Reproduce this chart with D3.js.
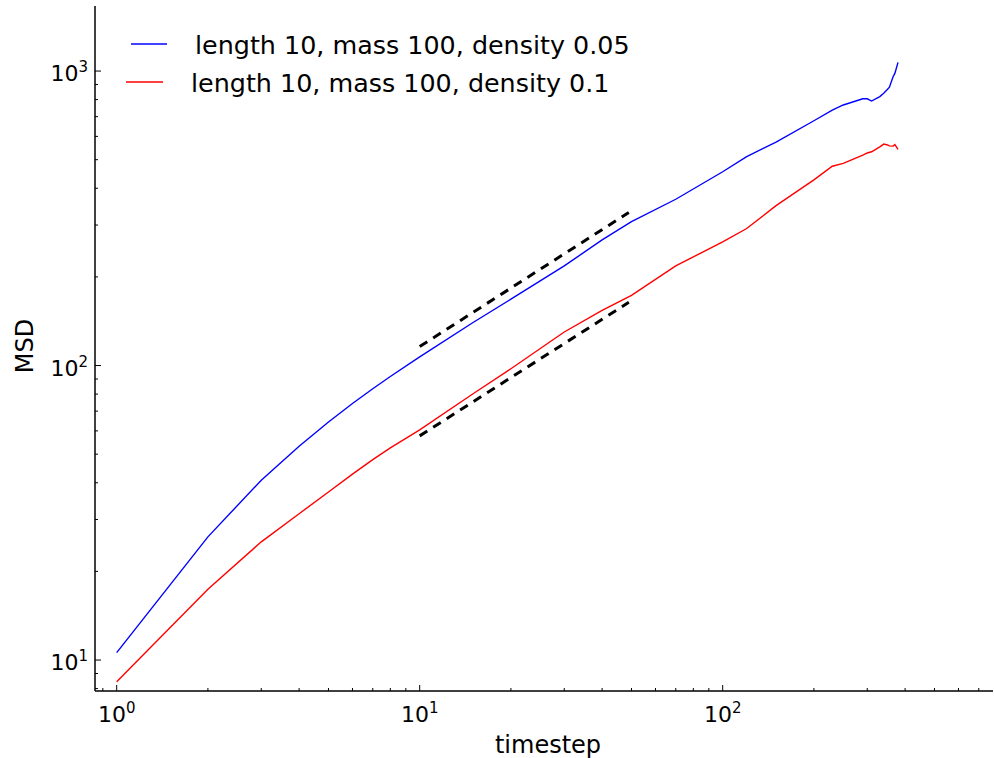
<!DOCTYPE html>
<html lang="en">
<head>
<meta charset="utf-8">
<title>MSD vs timestep</title>
<script src="https://d3js.org/d3.v7.min.js"></script>
<style>
  body{margin:0;background:#fff;font-family:"DejaVu Sans",sans-serif;}
  svg text{font-family:"DejaVu Sans",sans-serif;fill:#000;}
</style>
</head>
<body>
<div id="chart"></div>
<script>
// values
var timestep = [1,2,3,4,5,6,7,8,10,15,20,30,40,50,70,100,120,150,200,230,250,290,300,310,330,340,350,355,365,370,379]
var msdDensity005 = [10.6,26.2,40.8,53.2,64.3,74.3,83.4,91.8,107,140,168,218,267,308,367,455,512,574,678,737,767,805,805,791,819,840,867,881,957,982,1070]
var msdDensity01 = [8.44,17.4,25.2,31.4,37.2,42.8,47.9,52.5,60.5,80.2,97.5,130,154,173,218,263,292,349,427,475,486,518,527,532,553,565,561,557,556,563,542]

// guide lines (dashed), endpoints only
var guideX = [10,49]
var guideUpper = [116,331]
var guideLower = [57.7,164]

var seriesNames = ["length 10, mass 100, density 0.05","length 10, mass 100, density 0.1"]
var seriesColors = ["#0000ff","#ff0000"]

var w = 994, h = 758
// note: "top" is taken by window.top, so use other names
var plotLeft = 95, plotRight = 993, plotTop = 6, plotBottom = 691

var svg = d3.select("#chart").append("svg")
    .attr("width",w).attr("height",h)

var xScale = d3.scaleLog().domain([0.848,780]).range([plotLeft,plotRight])
var yScale = d3.scaleLog().domain([7.85,1663]).range([plotBottom,plotTop])

function isMajor(v){ return Math.abs(Math.log10(v)-Math.round(Math.log10(v)))<1e-9 }

// ticks, pointing inward
var xt = xScale.ticks()
svg.append("g").selectAll("line").data(xt).enter().append("line")
    .attr("x1",function(d){return xScale(d)}).attr("x2",function(d){return xScale(d)})
    .attr("y1",plotBottom).attr("y2",function(d){return plotBottom-(isMajor(d)?6:3)})
    .attr("stroke","#000").attr("stroke-width",1)
var yt = yScale.ticks()
svg.append("g").selectAll("line").data(yt).enter().append("line")
    .attr("y1",function(d){return yScale(d)}).attr("y2",function(d){return yScale(d)})
    .attr("x1",plotLeft).attr("x2",function(d){return plotLeft+(isMajor(d)?6:3)})
    .attr("stroke","#000").attr("stroke-width",1)

// tick labels 10^n
var xl = svg.append("g").selectAll("text").data(xt.filter(isMajor)).enter().append("text")
    .attr("x",function(d){return xScale(d)}).attr("y",722)
    .attr("text-anchor","middle").style("font-size","22px")
xl.append("tspan").text("10")
xl.append("tspan").attr("dy",-9).style("font-size","15px").text(function(d){return Math.round(Math.log10(d))})

var yl = svg.append("g").selectAll("text").data(yt.filter(isMajor)).enter().append("text")
    .attr("x",88).attr("y",function(d){return yScale(d)+10})
    .attr("text-anchor","end").style("font-size","22px")
yl.append("tspan").text("10")
yl.append("tspan").attr("dy",-9).style("font-size","15px").text(function(d){return Math.round(Math.log10(d))})

// spines
svg.append("line").attr("x1",plotLeft).attr("x2",plotLeft).attr("y1",plotTop).attr("y2",plotBottom)
    .attr("stroke","#000").attr("stroke-width",1.5)
svg.append("line").attr("x1",plotLeft).attr("x2",plotRight).attr("y1",plotBottom).attr("y2",plotBottom)
    .attr("stroke","#000").attr("stroke-width",1.5)

var line = d3.line()
    .x(function(d){return xScale(d[0])})
    .y(function(d){return yScale(d[1])})

var series = [msdDensity005,msdDensity01]
series.forEach(function(vals,i){
    svg.append("path")
        .datum(d3.zip(timestep,vals))
        .attr("d",line)
        .attr("fill","none")
        .attr("stroke",seriesColors[i])
        .attr("stroke-width",1.4)
})

;[guideUpper,guideLower].forEach(function(vals){
    svg.append("path")
        .datum(d3.zip(guideX,vals))
        .attr("d",line)
        .attr("fill","none")
        .attr("stroke","#000")
        .attr("stroke-width",3)
        .attr("stroke-dasharray","9,7")
})

// legend
var legendRows = [{x1:131,x2:167,y:44,tx:195,ty:54},{x1:126,x2:163,y:82,tx:191,ty:92}]
legendRows.forEach(function(r,i){
    svg.append("line").attr("x1",r.x1).attr("x2",r.x2).attr("y1",r.y).attr("y2",r.y)
        .attr("stroke",seriesColors[i]).attr("stroke-width",1.4)
    svg.append("text").attr("x",r.tx).attr("y",r.ty)
        .style("font-size","25.4px").text(seriesNames[i])
})

// axis labels
svg.append("text").attr("x",548).attr("y",753).attr("text-anchor","middle")
    .style("font-size","24px").text("timestep")
svg.append("text").attr("transform","translate(33,346) rotate(-90)").attr("text-anchor","middle")
    .style("font-size","24px").text("MSD")
</script>
</body>
</html>
